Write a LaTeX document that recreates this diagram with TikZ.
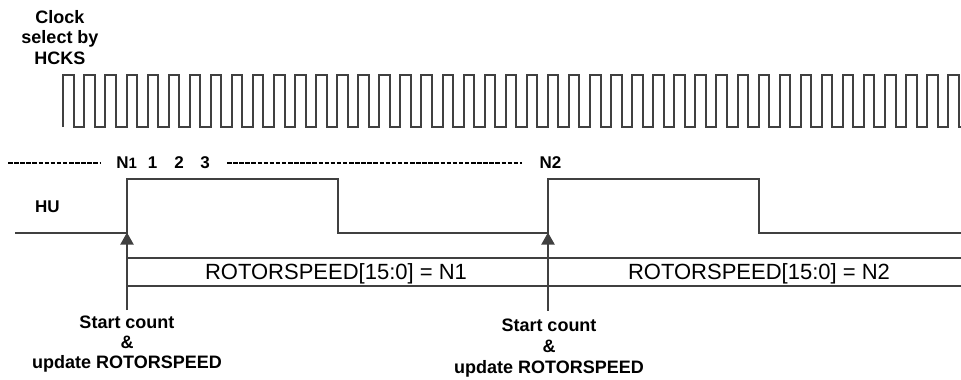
\documentclass[tikz,border=0pt]{standalone}
\usepackage{fontspec}
\setmainfont{Liberation Sans}
\usetikzlibrary{arrows.meta}
\definecolor{wavec}{HTML}{404040}
\begin{document}
\begin{tikzpicture}[x=1pt,y=-1pt,
  wave/.style={draw=wavec,line width=2pt,line join=miter},
  dashrow/.style={draw=black,line width=2pt,dash pattern=on 4.5pt off 1.6pt},
  arr/.style={wave,-{Triangle[width=13pt,length=12pt]}},
  toplab/.style={font=\bfseries\fontsize{18}{20.5}\selectfont,inner sep=0pt,align=center},
  evlabA/.style={font=\bfseries\fontsize{18}{20}\selectfont,inner sep=0pt,align=center},
  evlabB/.style={font=\bfseries\fontsize{18}{21.3}\selectfont,inner sep=0pt,align=center},
  rowlab/.style={font=\bfseries\fontsize{17}{20}\selectfont,inner sep=0pt},
  buslab/.style={font=\fontsize{22}{26}\selectfont,inner sep=0pt}]
\useasboundingbox (0,0) rectangle (961,380);
% clock
\begin{scope}
\clip (0,0) rectangle (961,380);
\draw[wave] (63.3,127) \foreach \k in {0,...,42}{ -- ++(0,-52) -- ++(10.5,0) -- ++(0,52) -- ++(10.57,0)};
\end{scope}
\node[toplab,anchor=north] (clk) at (60,10) {Clock\\select by\\HCKS};
% dashed row with counts
\draw[dashrow] (8,163) -- (100,163);
\draw[dashrow] (227,163) -- (522,163);
\node[rowlab,anchor=base] (n1) at (126.7,168.3) {N{\fontsize{15}{15}\selectfont 1}};
\node[rowlab,anchor=base] (c1) at (152.5,168.3) {1};
\node[rowlab,anchor=base] (c2) at (179,168.3) {2};
\node[rowlab,anchor=base] (c3) at (205,168.3) {3};
\node[rowlab,anchor=base] (n2) at (550.5,168.3) {N2};
% HU
\node[rowlab,anchor=base] (hu) at (47.5,212.3) {HU};
\coordinate (e1) at (127,232.5);
\coordinate (e2) at (548,232.5);
\draw[wave] (15,232.5) -- (e1) -- (127,179) -- (338,179) -- (338,232.5) -- (e2) -- (548,179) -- (759,179) -- (759,232.5) -- (961,232.5);
% bus
\draw[wave] (127,257.7) -- (961,257.7);
\draw[wave] (127,285.7) -- (961,285.7);
\node[buslab,anchor=base] (b1) at (336,279.3) {ROTORSPEED[15:0] = N1};
\node[buslab,anchor=base] (b2) at (759,279.3) {ROTORSPEED[15:0] = N2};
% event labels
\node[evlabA,anchor=north] (lab1) at (127,316) {Start count\\\&\\update ROTORSPEED};
\node[evlabB,anchor=north] (lab2) at (549,318.5) {Start count\\\&\\update ROTORSPEED};
\draw[arr,shorten <=6pt] (e1 |- lab1.north) -- (e1);
\draw[arr,shorten <=8pt] (e2 |- lab2.north) -- (e2);
\end{tikzpicture}
\end{document}
